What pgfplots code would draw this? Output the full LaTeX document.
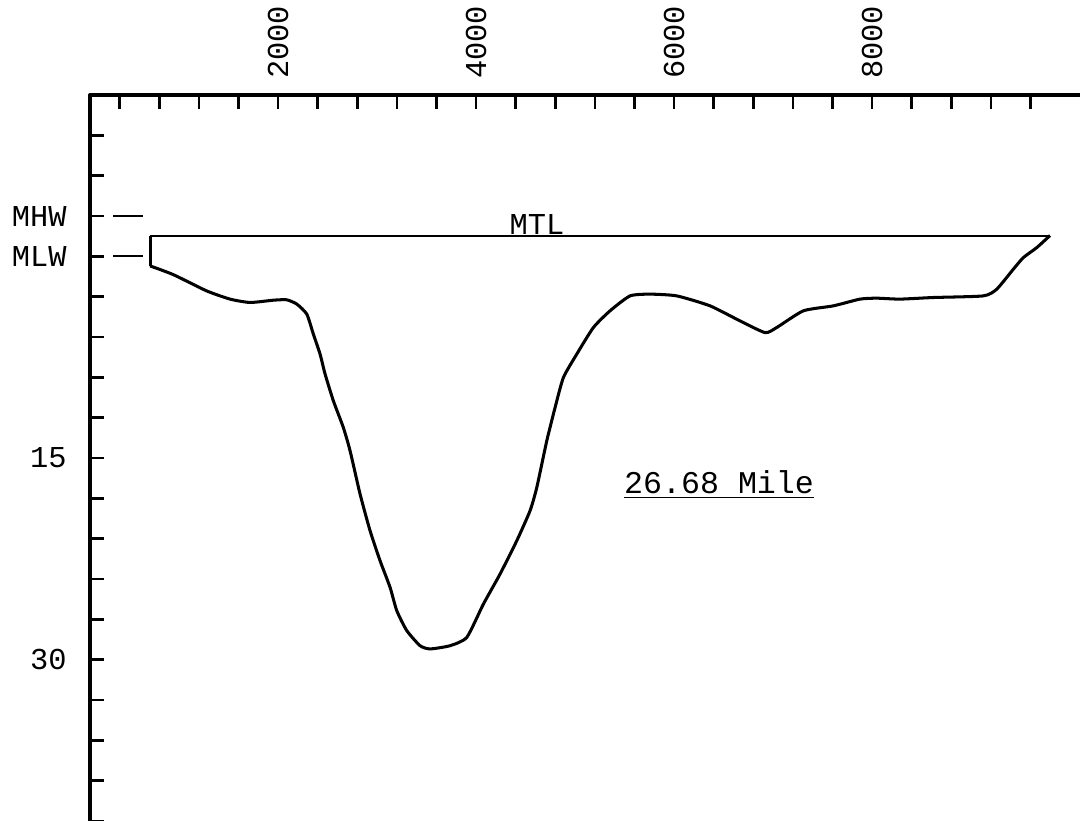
\documentclass[border=0pt]{standalone}
\usepackage{pgfplots}
\pgfplotsset{compat=1.18}
\usepackage{fontspec}
\setmainfont{Liberation Mono}

\begin{document}
\begin{tikzpicture}
\path[use as bounding box] (-1.25,0) rectangle (13.75,11.403);
\begin{axis}[%
width=13.75cm,
height=10.083cm,
scale only axis,
xmin=100,
xmax=10100,
ymin=-12,
ymax=42,
y dir=reverse,
axis x line*=top,
axis y line*=left,
axis line style={line width=1.4pt, line cap=round},
tick align=inside,
major tick length=0.19cm,
minor tick length=0.19cm,
every tick/.style={line width=1.1pt, black},
xtick={2000,4000,6000,8000},
xticklabels={2000,4000,6000,8000},
minor xtick={400,800,...,9600},
ytick={-3,0,15,30},
yticklabels={MHW,MLW,15,30},
minor ytick={-9,-6,...,42},
xticklabel style={rotate=90, anchor=west, font=\fontsize{12}{14}\selectfont},
yticklabel style={font=\fontsize{12}{14}\selectfont},
xticklabel shift=0.1cm,
yticklabel shift=0.2cm,
clip=false,
]
% mean tide level
\addplot[black, line width=0.8pt] coordinates{
	(707, -1.55) (9797, -1.55)
};
% landward edge
\addplot[black, line width=1.2pt] coordinates{
	(707, -1.55) (707, 0.71)
};
% bottom profile
\addplot[black, line width=1.2pt, line join=round, smooth, tension=0.35] coordinates{
	(707, 0.71)
	(942, 1.36)
	(1279, 2.57)
	(1515, 3.18)
	(1717, 3.43)
	(1953, 3.26)
	(2087, 3.23)
	(2189, 3.55)
	(2290, 4.30)
	(2356, 5.78)
	(2424, 7.27)
	(2475, 8.76)
	(2558, 10.74)
	(2659, 12.73)
	(2727, 14.46)
	(2828, 17.68)
	(2929, 20.41)
	(3030, 22.64)
	(3131, 24.62)
	(3199, 26.36)
	(3300, 27.84)
	(3434, 28.96)
	(3535, 29.20)
	(3737, 28.96)
	(3906, 28.34)
	(4074, 25.86)
	(4242, 23.63)
	(4411, 21.15)
	(4545, 18.92)
	(4613, 17.19)
	(4714, 13.72)
	(4798, 11.24)
	(4882, 9.01)
	(5017, 7.27)
	(5185, 5.29)
	(5353, 4.05)
	(5555, 2.94)
	(5757, 2.81)
	(6027, 2.94)
	(6363, 3.68)
	(6666, 4.80)
	(6919, 5.67)
	(7037, 5.29)
	(7306, 4.05)
	(7609, 3.68)
	(7878, 3.18)
	(8047, 3.11)
	(8282, 3.18)
	(8619, 3.06)
	(9123, 2.94)
	(9259, 2.44)
	(9427, 0.95)
	(9528, 0.09)
	(9663, -0.65)
	(9797, -1.55)
};
% tide marks beside the axis
\draw[line width=0.8pt] (axis cs:333,-3) -- (axis cs:636,-3);
\draw[line width=0.8pt] (axis cs:333,0) -- (axis cs:636,0);
\node[anchor=south, inner sep=0pt, font=\fontsize{12}{14}\selectfont] at (axis cs:4616,-1.6) {MTL};
\node[font=\fontsize{12.5}{14}\selectfont] at (axis cs:6454,17) {\underline{26.68 Mile}};
\end{axis}
\end{tikzpicture}
\end{document}
